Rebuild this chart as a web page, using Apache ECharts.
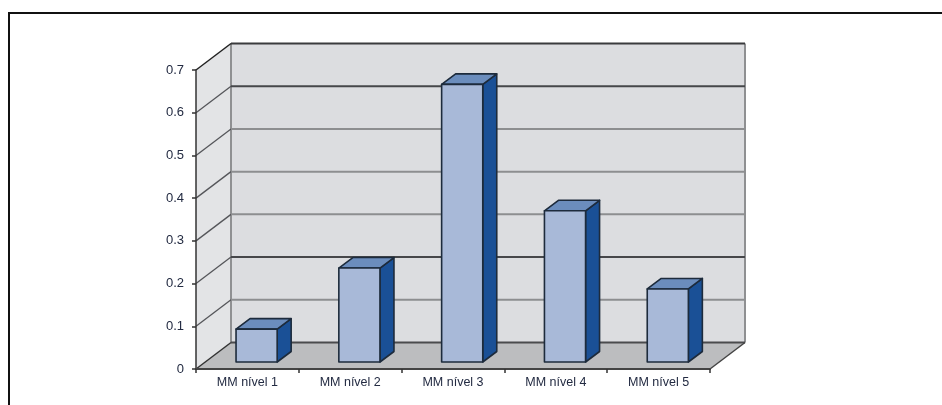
<!DOCTYPE html>
<html>
<head>
<meta charset="utf-8">
<style>html,body{margin:0;padding:0;background:#fff}#chart{width:942px;height:405px}</style>
<script src="https://cdn.jsdelivr.net/npm/echarts@6/dist/echarts.min.js"></script>
</head>
<body>
<div id="chart"></div>
<script>
// Chart data
const categories = ['MM nível 1', 'MM nível 2', 'MM nível 3', 'MM nível 4', 'MM nível 5'];
const values = [0.077, 0.22, 0.65, 0.354, 0.171];
const yTicks = [0, 0.1, 0.2, 0.3, 0.4, 0.5, 0.6, 0.7];
const strongGridlines = [0.2, 0.6, 0.7];

// Oblique projection of the box: how far the back wall sits from the axis plane
const WALL_DX = 35, WALL_DY = -26.5;
// Bars stand part-way into the floor and have their own smaller depth
const BAR_DX = 14, BAR_DY = -10.5, BAR_SHIFT_X = 9.2, BAR_SHIFT_Y = -7, BAR_RATIO = 0.4;

const poly = (points, fill, stroke, lineWidth) => ({
  type: 'polygon',
  shape: { points },
  style: { fill, stroke: stroke || 'none', lineWidth: lineWidth || 0, lineJoin: 'round' }
});
const seg = (a, b, stroke, lineWidth) => ({
  type: 'line',
  shape: { x1: a[0], y1: a[1], x2: b[0], y2: b[1] },
  style: { stroke, lineWidth }
});
const back = p => [p[0] + WALL_DX, p[1] + WALL_DY];

function renderBox(params, api) {
  const half = api.size([1, 0])[0] / 2;
  const c0 = api.coord([0, 0]);
  const c1 = api.coord([categories.length - 1, 0.7]);
  const bl = [c0[0] - half, c0[1]];
  const br = [c1[0] + half, c0[1]];
  const tl = [c0[0] - half, c1[1]];
  const tr = [c1[0] + half, c1[1]];
  const edge = '#8f9092';
  return {
    type: 'group',
    silent: true,
    children: [
      poly([bl, tl, back(tl), back(bl)], '#e3e4e6'),
      poly([back(tl), back(tr), back(br), back(bl)], '#dcdde0'),
      poly([bl, br, back(br), back(bl)], '#bcbdbf'),
      seg(back(tl), back(bl), edge, 2),
      seg(back(tr), back(br), edge, 2),
      seg(back(bl), back(br), '#4a4b4d', 2),
      seg(back(tl), back(tr), '#3a3b3d', 2),
      seg(tl, back(tl), '#222', 1.5),
      seg(bl, back(bl), '#333', 1.5),
      seg(br, back(br), '#444', 1.5)
    ]
  };
}

function renderGridline(params, api) {
  const half = api.size([1, 0])[0] / 2;
  const v = api.value(0);
  const left = api.coord([0, v]);
  const right = api.coord([categories.length - 1, v]);
  const a = [left[0] - half, left[1]];
  const b = [right[0] + half, right[1]];
  const strong = strongGridlines.includes(v);
  return {
    type: 'group',
    silent: true,
    children: [
      seg(a, back(a), '#55565a', 1.3),
      seg(back(a), back(b), strong ? '#46474a' : '#8d8e90', 2)
    ]
  };
}

function renderBar(params, api) {
  const i = api.value(0);
  const w = api.size([1, 0])[0] * BAR_RATIO;
  const base = api.coord([i, 0]);
  const top = api.coord([i, api.value(1)]);
  const x0 = base[0] + BAR_SHIFT_X - w / 2, x1 = x0 + w;
  const y0 = base[1] + BAR_SHIFT_Y, y1 = top[1] + BAR_SHIFT_Y;
  const stroke = '#1d2b3c';
  return {
    type: 'group',
    children: [
      poly([[x1, y0], [x1, y1], [x1 + BAR_DX, y1 + BAR_DY], [x1 + BAR_DX, y0 + BAR_DY]], '#1a5096', stroke, 1.6),
      poly([[x0, y1], [x1, y1], [x1 + BAR_DX, y1 + BAR_DY], [x0 + BAR_DX, y1 + BAR_DY]], '#6b8dbd', stroke, 1.6),
      poly([[x0, y0], [x1, y0], [x1, y1], [x0, y1]], '#a8b9d8', stroke, 1.6)
    ]
  };
}

const labelFont = { color: '#232b42', fontFamily: '"Liberation Sans", Arial, sans-serif' };

const chart = echarts.init(document.getElementById('chart'), null, { renderer: 'canvas' });
chart.setOption({
  animation: false,
  backgroundColor: '#fff',
  graphic: [{
    type: 'polyline',
    silent: true,
    shape: { points: [[9, 405], [9, 13], [942, 13]] },
    style: { stroke: '#111', lineWidth: 2, fill: 'none' }
  }],
  grid: { left: 196, right: 232, top: 70, bottom: 36, containLabel: false },
  xAxis: {
    type: 'category',
    data: categories,
    z: 5,
    axisLine: { lineStyle: { color: '#444', width: 2 } },
    axisTick: { show: true, length: 4, alignWithLabel: false, lineStyle: { color: '#333', width: 1.5 } },
    axisLabel: Object.assign({ margin: 7, interval: 0, fontSize: 12.5 }, labelFont),
    splitLine: { show: false }
  },
  yAxis: {
    type: 'value',
    min: 0,
    max: 0.7,
    interval: 0.1,
    z: 5,
    axisLine: { show: true, lineStyle: { color: '#333', width: 1.5 } },
    axisTick: { show: true, length: 4, lineStyle: { color: '#333', width: 1.5 } },
    axisLabel: Object.assign({ margin: 12, fontSize: 13, padding: [0, 0, 2, 0], formatter: v => String(+v.toFixed(1)) }, labelFont),
    splitLine: { show: false }
  },
  series: [
    { type: 'custom', coordinateSystem: 'cartesian2d', z: 1, silent: true, renderItem: renderBox, data: [[0]], encode: { y: 0 } },
    { type: 'custom', coordinateSystem: 'cartesian2d', z: 2, silent: true, renderItem: renderGridline,
      data: yTicks.filter(v => v > 0 && v < 0.7).map(v => [v]), encode: { y: 0 } },
    { type: 'custom', coordinateSystem: 'cartesian2d', z: 3, renderItem: renderBar,
      data: values.map((v, i) => [i, v]), encode: { x: 0, y: 1 } }
  ]
});
</script>
</body>
</html>
